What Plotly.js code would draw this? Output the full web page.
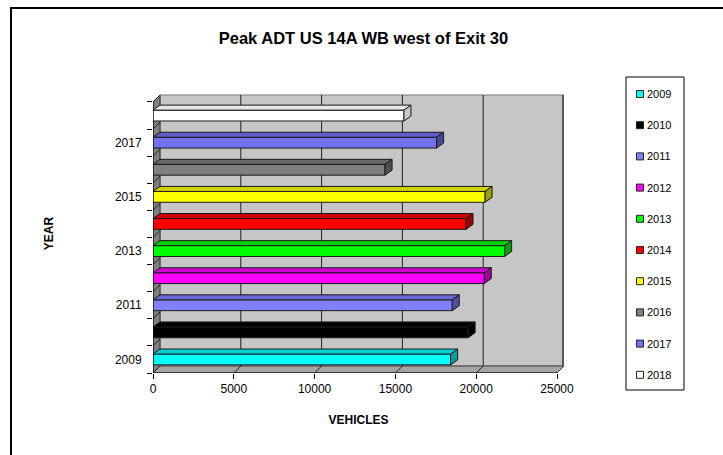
<!DOCTYPE html>
<html><head><meta charset="utf-8">
<script src="https://cdn.plot.ly/plotly-3.0.1.min.js"></script>
<style>html,body{margin:0;padding:0;background:#fff}#chart{width:723px;height:455px}</style>
</head><body><div id="chart"></div>
<script>
// ---- data ----
const years = ['2009','2010','2011','2012','2013','2014','2015','2016','2017','2018'];
const vehicles = [18420, 19500, 18520, 20500, 21760, 19370, 20550, 14360, 17550, 15530];
const colors = ['#00ffff','#000000','#8080ff','#ff00ff','#00ff00','#ff0000','#ffff00','#808080','#7272f0','#ffffff'];
const yTickYears = ['2009','2011','2013','2015','2017'];
const xTicks = [0, 5000, 10000, 15000, 20000, 25000];
const xTickText = ['0','5000','10000','15000','20000','25000'];

// ---- geometry ----
const W = 723, H = 455, L = 153, R = 564, T = 94, B = 373;
const XFRONT = 25000;                         // front plane max value
const XMAX = XFRONT * (R - L) / (557 - L);    // includes wall depth
const pxPerX = (R - L) / XMAX;
const DX = 7 / pxPerX;
const YMIN = -0.5, YMAX = 9.795;
const pxPerCat = (B - T) / (YMAX - YMIN);
const DY = 7 / pxPerCat;
const DXB = 7 / pxPerX, DYB = 5 / pxPerCat;   // bar depth
const HALF = 0.2;
const font = 'Liberation Sans, Arial, sans-serif';

function px(xp) { return (xp - L) / (R - L); }
function py(yp) { return (B - yp) / (B - T); }
function shade(hex, f) {
  const n = parseInt(hex.slice(1), 16);
  const r = Math.round(((n >> 16) & 255) * f), g = Math.round(((n >> 8) & 255) * f), b = Math.round((n & 255) * f);
  return 'rgb(' + r + ',' + g + ',' + b + ')';
}
function poly(pts) { return 'M' + pts.map(p => p[0] + ',' + p[1]).join('L') + 'Z'; }

const shapes = [];
// back wall
shapes.push({type:'rect', xref:'x', yref:'y', layer:'below', x0:DX, x1:XMAX - 1, y0:YMIN + DY, y1:9.5 + DY,
  fillcolor:'#c6c6c6', line:{color:'#7a7a7a', width:1}});
// right edge dark
shapes.push({type:'line', xref:'x', yref:'y', layer:'below', x0:XMAX - 60, x1:XMAX - 60, y0:YMIN + DY, y1:9.5 + DY,
  line:{color:'#555', width:2}});
// left wall
shapes.push({type:'path', xref:'x', yref:'y', layer:'below',
  path: poly([[0, YMIN], [DX, YMIN + DY], [DX, 9.5 + DY], [0, 9.5]]), fillcolor:'#808080', line:{color:'#333', width:1}});
// floor
shapes.push({type:'path', xref:'x', yref:'y', layer:'below',
  path: poly([[0, YMIN], [XFRONT, YMIN], [XFRONT + DX, YMIN + DY], [DX, YMIN + DY]]), fillcolor:'#a4a4a4', line:{color:'#444', width:1}});
// gridlines on back wall and floor
xTicks.slice(1, -1).forEach(v => {
  shapes.push({type:'line', xref:'x', yref:'y', layer:'below', x0:v + DX, x1:v + DX, y0:YMIN + DY, y1:9.5 + DY, line:{color:'#222', width:1}});
  shapes.push({type:'line', xref:'x', yref:'y', layer:'below', x0:v, x1:v + DX, y0:YMIN, y1:YMIN + DY, line:{color:'#222', width:1}});
});
// left wall category boundary diagonals
for (let k = 0; k <= years.length; k++) {
  shapes.push({type:'line', xref:'x', yref:'y', layer:'below', x0:0, x1:DX, y0:k - 0.5, y1:k - 0.5 + DY, line:{color:'#222', width:1}});
}
// front edges
shapes.push({type:'line', xref:'x', yref:'y', x0:0, x1:0, y0:YMIN, y1:9.5, line:{color:'#000', width:1}});
shapes.push({type:'line', xref:'x', yref:'y', x0:0, x1:XFRONT, y0:YMIN, y1:YMIN, line:{color:'#000', width:1}});

// bar depth faces (computed from values)
vehicles.forEach((v, i) => {
  const c = colors[i];
  const top = c === '#ffffff' ? '#e6e6e6' : shade(c, 0.82);
  const end = c === '#ffffff' ? '#c8c8c8' : shade(c, 0.62);
  shapes.push({type:'path', xref:'x', yref:'y', layer:'above',
    path: poly([[0, i + HALF], [DXB, i + HALF + DYB], [v + DXB, i + HALF + DYB], [v, i + HALF]]),
    fillcolor: top, line:{color:'#1a1a1a', width:1}});
  shapes.push({type:'path', xref:'x', yref:'y', layer:'above',
    path: poly([[v, i - HALF], [v, i + HALF], [v + DXB, i + HALF + DYB], [v + DXB, i - HALF + DYB]]),
    fillcolor: end, line:{color:'#1a1a1a', width:1}});
});

// chart border
shapes.push({type:'path', xref:'paper', yref:'paper',
  path: 'M' + px(740) + ',' + py(8) + 'L' + px(11) + ',' + py(8) + 'L' + px(11) + ',' + py(470),
  line:{color:'#000', width:2}});

// manual legend
const annotations = [];
const LG = {x0:626, x1:684, y0:77, y1:390, first:94, step:31.2, sw:640, tx:645};
shapes.push({type:'rect', xref:'paper', yref:'paper', x0:px(LG.x0), x1:px(LG.x1), y0:py(LG.y0), y1:py(LG.y1),
  fillcolor:'#fff', line:{color:'#000', width:1}});
years.forEach((yr, i) => {
  const yc = LG.first + i * LG.step;
  shapes.push({type:'rect', xref:'paper', yref:'paper', x0:px(LG.sw - 3.5), x1:px(LG.sw + 3.5), y0:py(yc + 3.5), y1:py(yc - 3.5),
    fillcolor:colors[i], line:{color:'#222', width:1}});
  annotations.push({xref:'paper', yref:'paper', x:px(LG.tx), y:py(yc), xanchor:'left', yanchor:'middle', showarrow:false,
    text:yr, font:{family:font, size:11, color:'#000'}});
});

const traces = years.map((yr, i) => ({
  type:'bar', orientation:'h', x:[vehicles[i]], y:[i], width:2 * HALF, name:yr, showlegend:false,
  marker:{color:colors[i], line:{color:'#1a1a1a', width:1}},
  hovertemplate: yr + ': %{x}<extra></extra>'
}));

const layout = {
  width: W, height: H,
  margin: {l:L, r:W - R, t:T, b:H - B, pad:0},
  paper_bgcolor:'#fff', plot_bgcolor:'rgba(0,0,0,0)',
  barmode:'overlay',
  showlegend:false,
  font:{family:font, size:12, color:'#000'},
  title:{text:'<b>Peak ADT US 14A WB west of Exit 30</b>', xref:'container', yref:'container', x:363.5 / W, y:1 - 38 / H,
    xanchor:'center', yanchor:'middle', font:{family:font, size:16.5, color:'#000'}},
  xaxis:{range:[0, XMAX], tickmode:'array', tickvals:xTicks, ticktext:xTickText, ticks:'outside', ticklen:5, tickcolor:'#000',
    showgrid:false, zeroline:false, showline:false, fixedrange:true, tickfont:{size:12},
    title:{text:'<b>VEHICLES</b>', standoff:20, font:{size:12}}},
  yaxis:{range:[YMIN, YMAX], tickmode:'array', tickvals:yTickYears.map(y => years.indexOf(y)), ticktext:yTickYears,
    ticks:'outside', ticklen:5, tickcolor:'rgba(0,0,0,0)', showgrid:false, zeroline:false, showline:false, fixedrange:true,
    tickfont:{size:12}, ticklabelstandoff:3,
    minor:{tickmode:'array', tickvals:years.map((_, k) => k - 0.5).concat([years.length - 0.5]), ticks:'outside', ticklen:5, tickcolor:'#000', showgrid:false},
    title:{text:'<b>YEAR</b>', standoff:58, font:{size:12}}},
  shapes: shapes,
  annotations: annotations
};
Plotly.newPlot('chart', traces, layout, {displayModeBar:false, staticPlot:true});
</script></body></html>
